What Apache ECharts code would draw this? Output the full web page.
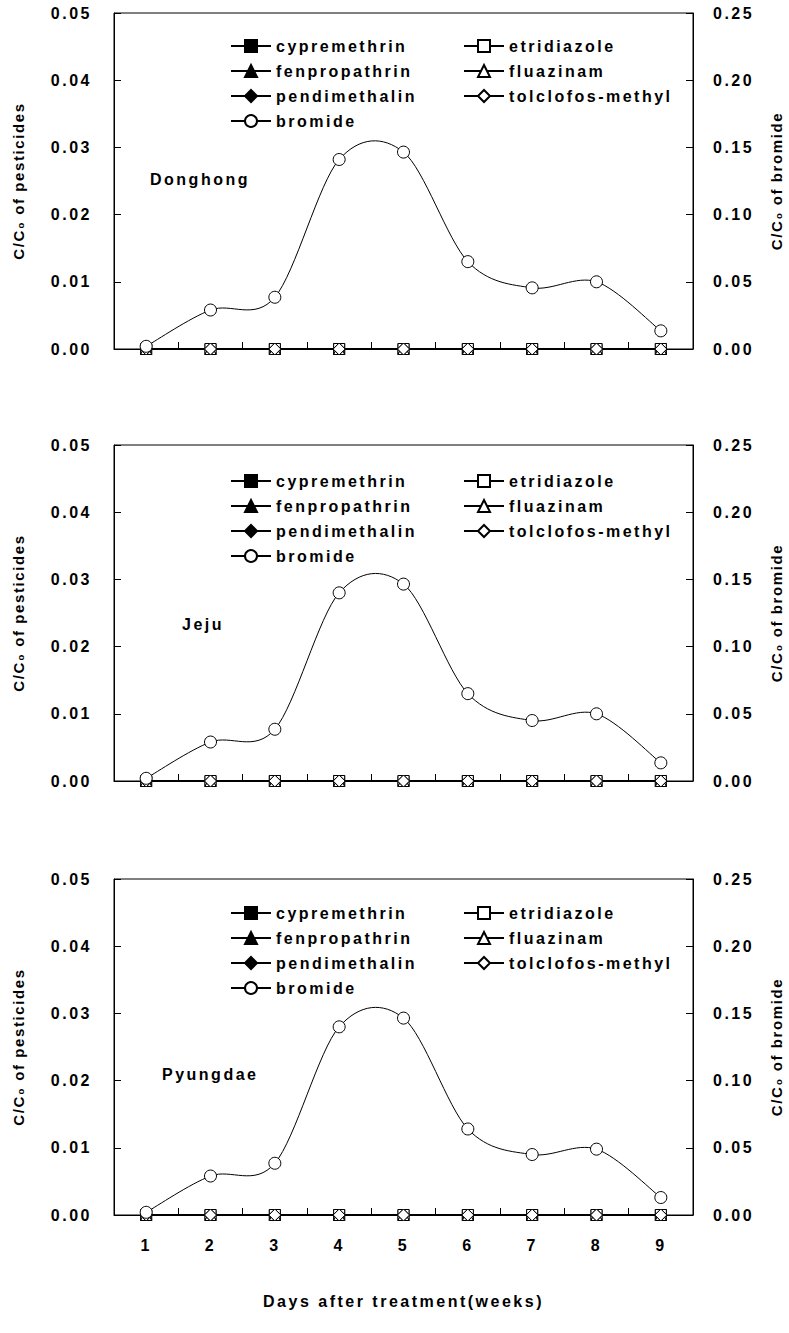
<!DOCTYPE html>
<html>
<head>
<meta charset="utf-8">
<script src="https://cdn.jsdelivr.net/npm/echarts@6/dist/echarts.min.js"></script>
<style>
  html, body { margin: 0; padding: 0; background: #fff; }
  #chart { width: 789px; height: 1333px; }
  #chart text { letter-spacing: 2.5px; }
  #chart text[style*="Helvetica"] { letter-spacing: 1.6px; }
</style>
</head>
<body>
<div id="chart"></div>
<script>
// ---- data ----
const weeks = ['1', '2', '3', '4', '5', '6', '7', '8', '9'];
const sites = ['Donghong', 'Jeju', 'Pyungdae'];
const leftTicks = [0, 0.01, 0.02, 0.03, 0.04, 0.05];
const rightTicks = [0, 0.05, 0.10, 0.15, 0.20, 0.25];

const cypremethrin     = [0, 0, 0, 0, 0, 0, 0, 0, 0];
const etridiazole      = [0, 0, 0, 0, 0, 0, 0, 0, 0];
const fenpropathrin    = [0, 0, 0, 0, 0, 0, 0, 0, 0];
const fluazinam        = [0, 0, 0, 0, 0, 0, 0, 0, 0];
const pendimethalin    = [0, 0, 0, 0, 0, 0, 0, 0, 0];
const tolclofosMethyl  = [0, 0, 0, 0, 0, 0, 0, 0, 0];

const bromideDonghong = [0.002, 0.029, 0.0385, 0.141, 0.1465, 0.065, 0.0455, 0.050, 0.0135];
const bromideJeju     = [0.002, 0.029, 0.0385, 0.140, 0.1465, 0.065, 0.0450, 0.050, 0.0135];
const bromidePyungdae = [0.002, 0.029, 0.0385, 0.140, 0.1465, 0.064, 0.0450, 0.049, 0.0130];
const bromideBySite = [bromideDonghong, bromideJeju, bromidePyungdae];

// ---- styling / layout ----
const FONT = 'Liberation Sans, Arial, sans-serif';
const NAME_FONT = 'Liberation Sans, Arial, Helvetica, sans-serif';
const gridTops = [13, 445, 879];
const gridH = 336;
const legendTops = [37, 472, 904];
const siteLabelPos = [[150, 180], [182, 625], [162, 1075]];

const pesticideDefs = [
  { name: 'cypremethrin',     data: cypremethrin,    symbol: 'rect',     fill: '#000', size: 11 },
  { name: 'etridiazole',      data: etridiazole,     symbol: 'rect',     fill: '#fff', size: 11 },
  { name: 'fenpropathrin',    data: fenpropathrin,   symbol: 'triangle', fill: '#000', size: 11 },
  { name: 'fluazinam',        data: fluazinam,       symbol: 'triangle', fill: '#fff', size: 11 },
  { name: 'pendimethalin',    data: pendimethalin,   symbol: 'diamond',  fill: '#000', size: 12 },
  { name: 'tolclofos-methyl', data: tolclofosMethyl, symbol: 'diamond',  fill: '#fff', size: 12 }
];

const grids = [], xAxes = [], yAxes = [], series = [], legends = [], graphics = [];

const labelStyle = { color: '#000', fontFamily: FONT, fontWeight: 'bold', fontSize: 16 };
const nameStyle = { color: '#000', fontFamily: NAME_FONT, fontWeight: 'bold', fontSize: 15 };

// Spline (Catmull-Rom, like a spreadsheet "smoothed line") drawn through the axis scales
function splineRenderer(values) {
  return function (params, api) {
    const k = params.dataIndex;
    const n = values.length;
    if (k >= n - 1) return null;
    const pt = function (j) {
      const c = Math.max(0, Math.min(n - 1, j));
      return api.coord([c, values[c]]);
    };
    const p0 = pt(k - 1), p1 = pt(k), p2 = pt(k + 1), p3 = pt(k + 2);
    const t = 0.16;
    return {
      type: 'bezierCurve',
      shape: {
        x1: p1[0], y1: p1[1], x2: p2[0], y2: p2[1],
        cpx1: p1[0] + (p2[0] - p0[0]) * t, cpy1: p1[1] + (p2[1] - p0[1]) * t,
        cpx2: p2[0] - (p3[0] - p1[0]) * t, cpy2: p2[1] - (p3[1] - p1[1]) * t
      },
      style: { stroke: '#000', lineWidth: 1, fill: 'none' }
    };
  };
}

sites.forEach(function (site, i) {
  const isLast = i === sites.length - 1;
  grids.push({
    left: 114, right: 96, top: gridTops[i], height: gridH,
    containLabel: false, outerBoundsMode: 'none',
    show: true, borderColor: '#000', borderWidth: 1, backgroundColor: 'transparent'
  });
  xAxes.push({
    type: 'category', gridIndex: i, data: weeks, boundaryGap: true,
    axisLine: { lineStyle: { color: '#000', width: 1 } },
    axisTick: { show: true, inside: true, length: 7, lineStyle: { color: '#000' } },
    axisLabel: Object.assign({ show: isLast, margin: 22 }, labelStyle),
    splitLine: { show: false },
    name: isLast ? 'Days after treatment(weeks)' : '',
    nameLocation: 'middle', nameGap: 78,
    nameTextStyle: { color: '#000', fontFamily: FONT, fontWeight: 'bold', fontSize: 16 }
  });
  yAxes.push({
    type: 'value', gridIndex: i, position: 'left', min: 0, max: 0.05, interval: 0.01,
    axisLine: { show: true, lineStyle: { color: '#000', width: 1 } },
    axisTick: { show: true, inside: true, length: 7, lineStyle: { color: '#000' } },
    axisLabel: Object.assign({ margin: 22, formatter: function (v) { return v.toFixed(2); } }, labelStyle),
    splitLine: { show: false },
    name: 'C/C\u2080 of pesticides', nameLocation: 'middle', nameGap: 88,
    nameTextStyle: nameStyle
  });
  yAxes.push({
    type: 'value', gridIndex: i, position: 'right', min: 0, max: 0.25, interval: 0.05,
    axisLine: { show: true, lineStyle: { color: '#000', width: 1 } },
    axisTick: { show: true, inside: true, length: 7, lineStyle: { color: '#000' } },
    axisLabel: Object.assign({ margin: 20, formatter: function (v) { return v.toFixed(2); } }, labelStyle),
    splitLine: { show: false },
    name: 'C/C\u2080 of bromide', nameLocation: 'middle', nameGap: 76,
    nameTextStyle: nameStyle
  });

  // bromide spline curve (drawn under the markers)
  series.push({
    name: 'bromide curve', type: 'custom', xAxisIndex: i, yAxisIndex: 2 * i + 1,
    data: bromideBySite[i].map(function (v, k) { return [k, v]; }),
    encode: { x: 0, y: 1 },
    renderItem: splineRenderer(bromideBySite[i]),
    silent: true, z: 2
  });

  pesticideDefs.forEach(function (p) {
    series.push({
      name: p.name, type: 'line', xAxisIndex: i, yAxisIndex: 2 * i,
      data: p.data, symbol: p.symbol, symbolSize: p.size, showAllSymbol: true,
      lineStyle: { color: '#000', width: 1.5 },
      itemStyle: { color: p.fill, borderColor: '#000', borderWidth: 1 },
      emphasis: { disabled: true }, z: 3
    });
  });
  series.push({
    name: 'bromide', type: 'line', xAxisIndex: i, yAxisIndex: 2 * i + 1,
    data: bromideBySite[i], symbol: 'circle', symbolSize: 12,
    lineStyle: { color: '#000', width: 1, opacity: 0 },
    itemStyle: { color: '#fff', borderColor: '#000', borderWidth: 1 },
    emphasis: { disabled: true }, z: 4
  });

  const legendCommon = {
    orient: 'vertical', top: legendTops[i], itemWidth: 40, itemHeight: 15, itemGap: 7,
    textStyle: { color: '#000', fontFamily: FONT, fontWeight: 'bold', fontSize: 16, lineHeight: 18 },
    lineStyle: { opacity: 1 },
    selectedMode: false, padding: 0
  };
  legends.push(Object.assign({ left: 230, data: ['cypremethrin', 'fenpropathrin', 'pendimethalin', 'bromide'] }, legendCommon));
  legends.push(Object.assign({ left: 463, data: ['etridiazole', 'fluazinam', 'tolclofos-methyl'] }, legendCommon));

  graphics.push({
    type: 'text', left: siteLabelPos[i][0], top: siteLabelPos[i][1] - 9,
    style: { text: site, fill: '#000', font: 'bold 16px ' + FONT }
  });
});

const chart = echarts.init(document.getElementById('chart'), null, { renderer: 'svg' });
chart.setOption({
  animation: false,
  backgroundColor: '#fff',
  grid: grids, xAxis: xAxes, yAxis: yAxes, series: series, legend: legends,
  graphic: graphics
});
</script>
</body>
</html>
